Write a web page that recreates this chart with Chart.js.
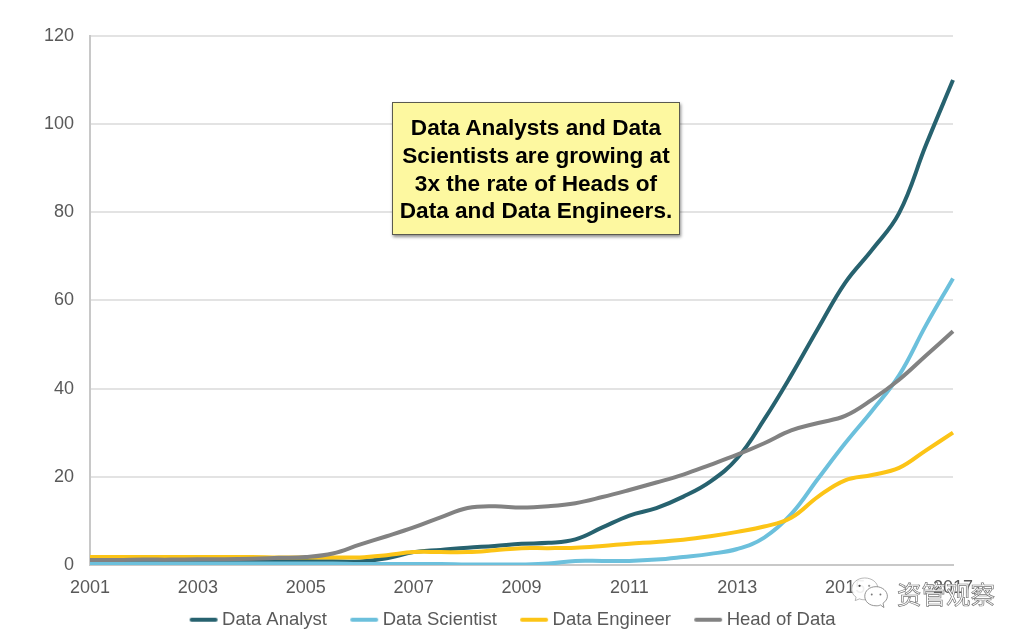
<!DOCTYPE html>
<html>
<head>
<meta charset="utf-8">
<title>Data roles</title>
<script src="https://cdn.jsdelivr.net/npm/chart.js@4"></script>
<style>
    html, body { margin: 0; padding: 0; background: #fff; }
    #wrap { position: relative; width: 1030px; height: 641px; overflow: hidden; }
    #note {
        position: absolute; left: 392px; top: 102px; width: 286px; height: 131px;
        background: #fdf8a0; border: 1px solid #5a5a50; box-shadow: 1px 2px 3px rgba(0,0,0,.45);
        font: bold 22.6px/27.8px "Liberation Sans", Arial, sans-serif; color: #000;
        text-align: center; display: flex; align-items: center; justify-content: center;
    }
    #note div { position: relative; top: 1px; }
    #mark {
        position: absolute; left: 897px; top: 580px;
        font: 24.5px/28px "Noto Sans CJK SC", sans-serif; color: #fff;
        -webkit-text-stroke: 0.7px #777; white-space: nowrap;
    }
    #bubbles { position: absolute; left: 850px; top: 576px; }
</style>
</head>
<body>
<div id="wrap">
    <canvas id="chart" width="1030" height="641"></canvas>
    <div id="note"><div>Data Analysts and Data<br>Scientists are growing at<br>3x the rate of Heads of<br>Data and Data Engineers.</div></div>
    <svg id="bubbles" width="40" height="37" viewBox="0 0 46 42">
        <path d="M17 2C8 2 2 8 2 15c0 4 2 7 5 9l-1 4 5-2c2 1 4 1 6 1 8 0 15-6 15-13S25 2 17 2z" fill="#fff" fill-opacity=".9" stroke="#999" stroke-width=".8"/>
        <circle cx="11" cy="11" r="1.3" fill="#444"/>
        <circle cx="22" cy="11" r="1.3" fill="#999"/>
        <path d="M30 12c-8 0-13 5-13 11s5 11 13 11c2 0 3 0 5-1l4 3-1-5c3-2 5-5 5-8 0-6-6-11-13-11z" fill="#fff" stroke="#777" stroke-width=".9"/>
        <circle cx="25" cy="21" r="1.1" fill="#777"/>
        <circle cx="35" cy="21" r="1.1" fill="#777"/>
    </svg>
    <div id="mark">资管观察</div>
</div>
<script>
// half-year readings, only odd years get a tick label
const periods = ['2001', '2001.5', '2002', '2002.5', '2003', '2003.5', '2004', '2004.5', '2005', '2005.5',
    '2006', '2006.5', '2007', '2007.5', '2008', '2008.5', '2009', '2009.5', '2010', '2010.5', '2011',
    '2011.5', '2012', '2012.5', '2013', '2013.5', '2014', '2014.5', '2015', '2015.5', '2016', '2016.5', '2017'];
const labeledYears = ['2001', '2003', '2005', '2007', '2009', '2011', '2013', '2015', '2017'];

const dataAnalyst = [0.9, 0.9, 0.9, 0.9, 0.9, 0.9, 0.9, 0.9, 0.9, 0.8,
    0.8, 1.5, 2.9, 3.4, 3.9, 4.3, 4.8, 5.0, 5.8, 8.5, 11.2,
    12.9, 15.5, 18.9, 24.2, 33, 43, 53.7, 64, 71.5, 79.8, 95.3, 110];
const dataScientist = [0.3, 0.3, 0.3, 0.3, 0.3, 0.3, 0.3, 0.3, 0.3, 0.3,
    0.2, 0.2, 0.2, 0.2, 0.1, 0.1, 0.1, 0.3, 0.9, 0.9, 0.9,
    1.2, 1.8, 2.5, 3.6, 6.2, 11.5, 19.6, 27.6, 35, 43, 54.4, 65];
const dataEngineer = [1.8, 1.8, 1.8, 1.8, 1.8, 1.8, 1.8, 1.7, 1.7, 1.7,
    1.7, 2.2, 2.9, 2.9, 2.9, 3.3, 3.8, 3.8, 3.9, 4.3, 4.8,
    5.2, 5.7, 6.5, 7.5, 8.7, 10.7, 15.5, 19.2, 20.4, 22, 26, 30];
const headOfData = [1.1, 1.1, 1.2, 1.2, 1.3, 1.3, 1.4, 1.6, 1.8, 2.6,
    4.6, 6.5, 8.5, 10.8, 12.9, 13.3, 13, 13.3, 14, 15.4, 17,
    18.7, 20.5, 22.7, 25, 27.6, 30.5, 32.2, 33.8, 37.5, 42, 47.5, 53];

const seriesNames = ['Data Analyst', 'Data Scientist', 'Data Engineer', 'Head of Data'];
const seriesColors = ['#27626f', '#6cc0dc', '#fcc416', '#828282'];
const seriesValues = [dataAnalyst, dataScientist, dataEngineer, headOfData];

const textColor = '#595959';
const fontFamily = '"Liberation Sans", Arial, sans-serif';
const tickFont = { family: fontFamily, size: 18 };
const legendFont = { family: fontFamily, size: 18.5 };

// legend swatch: line sits at the right end, the transparent left part spaces the items
const legendBoxWidth = 38.5;
function lineSwatch(color) {
    const c = document.createElement('canvas');
    c.width = legendBoxWidth + 12;
    c.height = 6;
    const ctx = c.getContext('2d');
    ctx.strokeStyle = color;
    ctx.lineWidth = 4;
    ctx.lineCap = 'round';
    ctx.beginPath();
    ctx.moveTo(c.width - 27, 3);
    ctx.lineTo(c.width - 3, 3);
    ctx.stroke();
    return c;
}

new Chart(document.getElementById('chart').getContext('2d'), {
    type: 'line',
    data: {
        labels: periods,
        datasets: seriesNames.map((name, i) => ({
            label: name,
            data: seriesValues[i],
            borderColor: seriesColors[i],
            backgroundColor: seriesColors[i],
            borderWidth: 4,
            pointRadius: 0,
            tension: 0.4,
            order: seriesNames.length - i
        }))
    },
    options: {
        responsive: false,
        animation: false,
        layout: { padding: { top: 36, right: 20, bottom: 2, left: 0 } },
        scales: {
            x: {
                offset: false,
                afterFit(scale) { scale.height -= 8; },
                grid: { display: false, drawTicks: false },
                border: { color: '#c8c8c8', width: 2 },
                ticks: {
                    color: textColor,
                    font: tickFont,
                    padding: 12,
                    autoSkip: false,
                    maxRotation: 0,
                    callback(value) {
                        const label = this.getLabelForValue(value);
                        return labeledYears.includes(label) ? label : '';
                    }
                }
            },
            y: {
                min: 0,
                max: 120,
                afterFit(scale) { scale.width = 90; },
                grid: { color: '#e3e3e3', lineWidth: 2, drawTicks: false },
                border: { color: '#c8c8c8', width: 2 },
                ticks: { color: textColor, font: tickFont, padding: 16, stepSize: 20 }
            },
            // empty axis keeps the right margin while the legend stays centred on the page
            rightGap: {
                position: 'right',
                min: 0,
                max: 120,
                afterFit(scale) { scale.width = 57; },
                grid: { display: false },
                border: { display: false },
                ticks: { display: false }
            }
        },
        plugins: {
            tooltip: { enabled: false },
            legend: {
                position: 'bottom',
                reverse: true,
                labels: {
                    color: textColor,
                    font: legendFont,
                    usePointStyle: true,
                    pointStyleWidth: legendBoxWidth,
                    boxHeight: 14,
                    padding: 8,
                    generateLabels(chart) {
                        const items = Chart.defaults.plugins.legend.labels.generateLabels(chart);
                        items.forEach(item => { item.pointStyle = lineSwatch(seriesColors[item.datasetIndex]); });
                        return items;
                    }
                }
            }
        }
    }
});
</script>
</body>
</html>
